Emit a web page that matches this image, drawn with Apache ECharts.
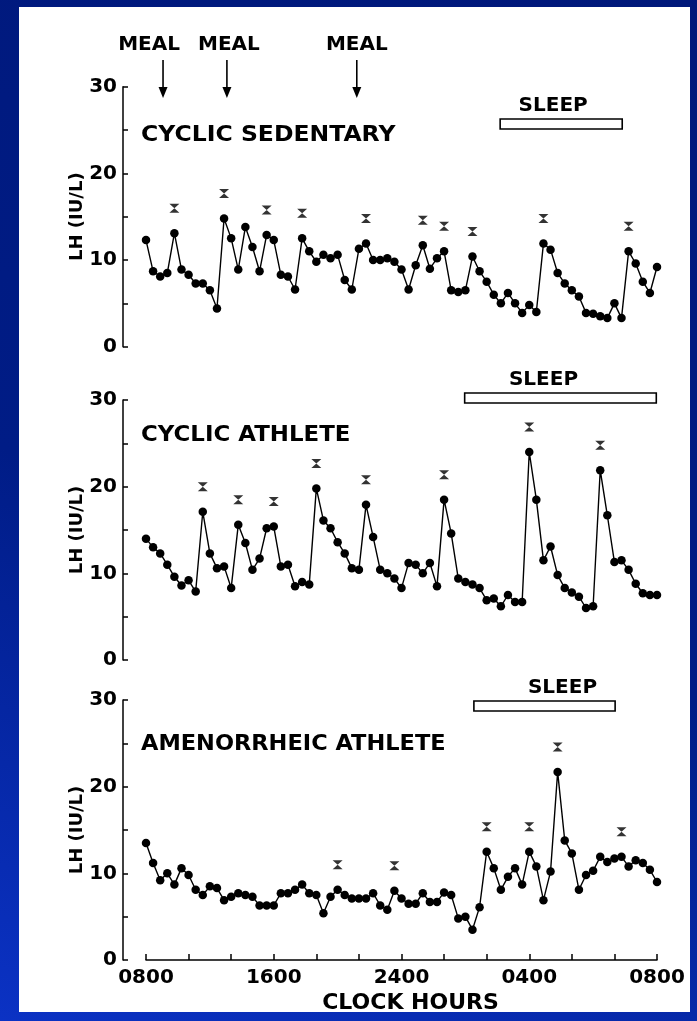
<!DOCTYPE html>
<html><head><meta charset="utf-8">
<style>
html,body{margin:0;padding:0;width:697px;height:1021px;overflow:hidden;}
body{background:linear-gradient(200deg,#00187a 0%,#001c86 55%,#0b32c4 100%);}
#paper{position:absolute;left:19px;top:7px;width:671px;height:1005px;background:#fff;}
#chart{position:absolute;left:0;top:0;width:697px;height:1021px;}
</style>
<script src="https://cdn.jsdelivr.net/npm/echarts@6/dist/echarts.min.js"></script>
</head><body><div id="paper"></div><div id="chart"></div>
<script>
// ---- data (LH, IU/L, one sample every 20 min from 0800 to 0800) ----
const sedentaryLH = [12.3, 8.7, 8.1, 8.5, 13.1, 8.9, 8.3, 7.3, 7.3, 6.5,
  4.4, 14.8, 12.5, 8.9, 13.8, 11.5, 8.7, 12.9, 12.3, 8.3,
  8.1, 6.6, 12.5, 11.0, 9.8, 10.6, 10.2, 10.6, 7.7, 6.6,
  11.3, 11.9, 10.0, 10.0, 10.2, 9.8, 8.9, 6.6, 9.4, 11.7,
  9.0, 10.2, 11.0, 6.5, 6.3, 6.5, 10.4, 8.7, 7.5, 6.0,
  5.0, 6.2, 5.0, 3.9, 4.8, 4.0, 11.9, 11.2, 8.5, 7.3,
  6.5, 5.8, 3.9, 3.8, 3.5, 3.3, 5.0, 3.3, 11.0, 9.6,
  7.5, 6.2, 9.2];
const athleteLH = [14.0, 13.0, 12.3, 11.0, 9.6, 8.6, 9.2, 7.9, 17.1, 12.3,
  10.6, 10.8, 8.3, 15.6, 13.5, 10.4, 11.7, 15.2, 15.4, 10.8,
  11.0, 8.5, 9.0, 8.7, 19.8, 16.1, 15.2, 13.6, 12.3, 10.6,
  10.4, 17.9, 14.2, 10.4, 10.0, 9.4, 8.3, 11.2, 11.0, 10.0,
  11.2, 8.5, 18.5, 14.6, 9.4, 9.0, 8.7, 8.3, 6.9, 7.1,
  6.2, 7.5, 6.7, 6.7, 24.0, 18.5, 11.5, 13.1, 9.8, 8.3,
  7.8, 7.3, 6.0, 6.2, 21.9, 16.7, 11.3, 11.5, 10.4, 8.8,
  7.7, 7.5, 7.5];
const amenorrheicLH = [13.5, 11.2, 9.2, 10.0, 8.7, 10.6, 9.8, 8.1, 7.5, 8.5,
  8.3, 6.9, 7.3, 7.7, 7.5, 7.3, 6.3, 6.3, 6.3, 7.7,
  7.7, 8.1, 8.7, 7.7, 7.5, 5.4, 7.3, 8.1, 7.5, 7.1,
  7.1, 7.1, 7.7, 6.3, 5.8, 8.0, 7.1, 6.5, 6.5, 7.7,
  6.7, 6.7, 7.8, 7.5, 4.8, 5.0, 3.5, 6.1, 12.5, 10.6,
  8.1, 9.6, 10.6, 8.7, 12.5, 10.8, 6.9, 10.2, 21.7, 13.8,
  12.3, 8.1, 9.8, 10.3, 11.9, 11.3, 11.7, 11.9, 10.8, 11.5,
  11.2, 10.4, 9.0];
// sample indices of the pulses marked with an asterisk
const sedentaryPulses = [4, 11, 17, 22, 31, 39, 42, 46, 56, 68];
const athletePulses = [8, 13, 18, 24, 31, 42, 54, 64];
const amenorrheicPulses = [27, 35, 48, 54, 58, 67];
// annotations, in sample-index units
const mealSamples = [2.4, 11.4, 29.7];
const sleepSamples = [[49.9, 67.1], [44.9, 71.9], [46.2, 66.1]];
const panelTitles = ['CYCLIC SEDENTARY', 'CYCLIC ATHLETE', 'AMENORRHEIC ATHLETE'];
const xTickSamples = [0, 18, 36, 54, 72];
const xTickLabels = ['0800', '1600', '2400', '0400', '0800'];
const yAxisTitle = 'LH (IU/L)';
const xAxisTitle = 'CLOCK HOURS';
const mealText = 'MEAL';
const sleepText = 'SLEEP';

// ---- layout / style ----
const FONT = '"DejaVu Sans", sans-serif';
const gridTops = [86.7, 400, 700];
const titleX = 141, titleY = [135.5, 435.5, 744.5], titleScaleX = [1.12, 1.09, 1.07];
const sleepBarTop = [119, 393, 701], sleepBarH = 10, sleepTextDx = [-8, -17, 18];
const mealTextY = 45, mealTextDx = [-14, 2, 0], mealArrowTop = 60, mealArrowTip = 98;
const txt = (size) => ({color: '#000', fontFamily: FONT, fontWeight: 'bold', fontSize: size});
const black = {color: '#000', width: 1.5};

const panelData = [sedentaryLH, athleteLH, amenorrheicLH];
const panelPulses = [sedentaryPulses, athletePulses, amenorrheicPulses];
const hourglass = 'path://M0,0L10,0L0,10L10,10Z';

const chart = echarts.init(document.getElementById('chart'), null, {renderer: 'canvas'});
const option = {
  animation: false,
  backgroundColor: 'transparent',
  grid: gridTops.map(t => ({left: 146, width: 511, top: t, height: 260, containLabel: false, outerBoundsMode: 'none'})),
  xAxis: [0, 1, 2].map(k => ({
    gridIndex: k, type: 'value', min: 0, max: 72, interval: 6, show: k === 2,
    axisLine: {show: true, onZero: false, lineStyle: black},
    axisTick: {show: true, inside: true, length: 6, lineStyle: black},
    axisLabel: {show: true, margin: 8, showMinLabel: true, showMaxLabel: true, ...txt(20),
      formatter: v => { const j = xTickSamples.indexOf(v); return j >= 0 ? xTickLabels[j] : ''; }},
    splitLine: {show: false},
    name: k === 2 ? xAxisTitle : '', nameLocation: 'middle', nameGap: 32, nameMoveOverlap: false,
    nameTextStyle: {...txt(22), padding: [0, 0, 0, 18]}
  })),
  yAxis: [0, 1, 2].map(k => ({
    gridIndex: k, type: 'value', min: 0, max: 30, interval: 5, offset: 23,
    axisLine: {show: true, onZero: false, lineStyle: black},
    axisTick: {show: true, inside: true, length: 5, lineStyle: black},
    axisLabel: {margin: 6, ...txt(20), formatter: v => (v % 10 === 0 ? String(v) : '')},
    splitLine: {show: false},
    name: yAxisTitle, nameLocation: 'middle', nameGap: 37, nameRotate: 90, nameMoveOverlap: false,
    nameTextStyle: txt(18)
  })),
  series: []
};
panelData.forEach((d, k) => {
  option.series.push({
    type: 'line', xAxisIndex: k, yAxisIndex: k, silent: true, clip: false,
    data: d.map((v, i) => [i, v]),
    symbol: 'circle', symbolSize: 8.5, showSymbol: true,
    itemStyle: {color: '#000'}, lineStyle: {color: '#000', width: 1.4}
  });
  option.series.push({
    type: 'scatter', xAxisIndex: k, yAxisIndex: k, silent: true, clip: false,
    data: panelPulses[k].map(i => [i, d[i]]),
    symbol: hourglass, symbolSize: [10, 9], symbolOffset: [0, -25],
    itemStyle: {color: '#000'}
  });
});
chart.setOption(option);

const font = (s) => 'bold ' + s + 'px ' + FONT;
const gfx = [];
panelTitles.forEach((t, k) => gfx.push({type: 'text', x: titleX, y: titleY[k], scaleX: titleScaleX[k], silent: true,
  style: {text: t, font: font(21), fill: '#000', align: 'left', verticalAlign: 'middle'}}));
sleepSamples.forEach(([s, e], k) => {
  const x0 = chart.convertToPixel({gridIndex: k}, [s, 0])[0];
  const x1 = chart.convertToPixel({gridIndex: k}, [e, 0])[0];
  gfx.push({type: 'rect', silent: true, shape: {x: x0, y: sleepBarTop[k], width: x1 - x0, height: sleepBarH},
    style: {fill: '#fff', stroke: '#000', lineWidth: 1.6}});
  gfx.push({type: 'text', silent: true, x: (x0 + x1) / 2 + sleepTextDx[k], y: sleepBarTop[k] - 3,
    style: {text: sleepText, font: font(20), fill: '#000', align: 'center', verticalAlign: 'bottom'}});
});
mealSamples.forEach((m, j) => {
  const x = chart.convertToPixel({gridIndex: 0}, [m, 0])[0];
  gfx.push({type: 'line', silent: true, shape: {x1: x, y1: mealArrowTop, x2: x, y2: mealArrowTip - 6},
    style: {stroke: '#000', lineWidth: 1.6}});
  gfx.push({type: 'polygon', silent: true, shape: {points: [[x - 4.5, mealArrowTip - 11], [x + 4.5, mealArrowTip - 11], [x, mealArrowTip]]},
    style: {fill: '#000'}});
  gfx.push({type: 'text', silent: true, x: x + mealTextDx[j], y: mealTextY,
    style: {text: mealText, font: font(20), fill: '#000', align: 'center', verticalAlign: 'middle'}});
});
chart.setOption({graphic: gfx});
</script>
</body></html>
